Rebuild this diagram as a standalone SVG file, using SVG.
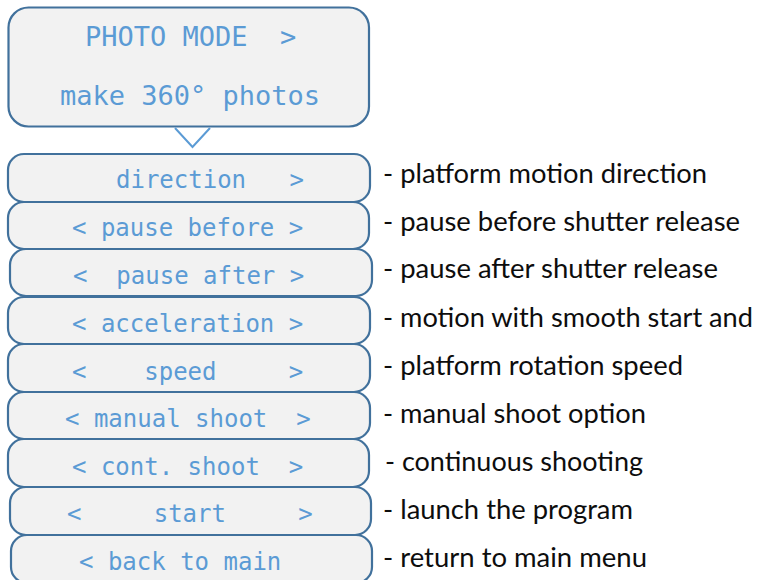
<svg xmlns="http://www.w3.org/2000/svg" width="757" height="580" viewBox="0 0 757 580">
<style>
.box{fill:#F2F2F2;stroke:#41719C;stroke-width:2.2}
.mono{font-family:"DejaVu Sans Mono","Liberation Mono",monospace;fill:#5B9BD5;white-space:pre}
.big{font-size:27px}
.row{font-size:24px}
.desc{font-family:Lato,"Liberation Sans",sans-serif;font-size:26px;fill:#0D0D0D}
</style>
<rect width="757" height="580" fill="#FFFFFF"/>
<g id="photo-mode">
<rect class="box" x="8.5" y="7.5" width="360.5" height="119" rx="20"/>
<text class="mono big" x="85" y="46" xml:space="preserve">PHOTO MODE  &gt;</text>
<text class="mono big" x="60" y="105" xml:space="preserve">make 360° photos</text>
</g>
<g id="connectors">
<polyline points="175,128 192.5,147 210,128" fill="none" stroke="#5B9BD5" stroke-width="2"/>
</g>
<g id="direction">
<rect class="box" x="8" y="154" width="362" height="48" rx="16"/>
<text class="mono row" x="116" y="188" xml:space="preserve">direction   &gt;</text>
</g>
<g id="pause-before">
<rect class="box" x="8" y="202" width="361" height="47" rx="16"/>
<text class="mono row" x="72" y="236" xml:space="preserve">&lt; pause before &gt;</text>
</g>
<g id="pause-after">
<rect class="box" x="10" y="249" width="362" height="47" rx="16"/>
<text class="mono row" x="73" y="284" xml:space="preserve">&lt;  pause after &gt;</text>
</g>
<g id="acceleration">
<rect class="box" x="8" y="297" width="362" height="47" rx="16"/>
<text class="mono row" x="72" y="332" xml:space="preserve">&lt; acceleration &gt;</text>
</g>
<g id="speed">
<rect class="box" x="8" y="344" width="362" height="48" rx="16"/>
<text class="mono row" x="72" y="380" xml:space="preserve">&lt;    speed     &gt;</text>
</g>
<g id="manual-shoot">
<rect class="box" x="8" y="392" width="362" height="47" rx="16"/>
<text class="mono row" x="65" y="427" xml:space="preserve">&lt; manual shoot  &gt;</text>
</g>
<g id="cont-shoot">
<rect class="box" x="8" y="439" width="361" height="48" rx="16"/>
<text class="mono row" x="72" y="475" xml:space="preserve">&lt; cont. shoot  &gt;</text>
</g>
<g id="start">
<rect class="box" x="10" y="487" width="361" height="48" rx="16"/>
<text class="mono row" x="67" y="522" xml:space="preserve">&lt;     start     &gt;</text>
</g>
<g id="back-to-main">
<rect class="box" x="11" y="535" width="361" height="48" rx="16"/>
<text class="mono row" x="79" y="570" xml:space="preserve">&lt; back to main</text>
</g>
<g id="descriptions">
<text class="desc" x="383" y="183" textLength="324" lengthAdjust="spacingAndGlyphs">- platform motion direction</text>
<text class="desc" x="383" y="231" textLength="357" lengthAdjust="spacingAndGlyphs">- pause before shutter release</text>
<text class="desc" x="383" y="278" textLength="335" lengthAdjust="spacingAndGlyphs">- pause after shutter release</text>
<text class="desc" x="383" y="327" textLength="370" lengthAdjust="spacingAndGlyphs">- motion with smooth start and</text>
<text class="desc" x="383" y="375" textLength="300" lengthAdjust="spacingAndGlyphs">- platform rotation speed</text>
<text class="desc" x="383" y="423" textLength="263" lengthAdjust="spacingAndGlyphs">- manual shoot option</text>
<text class="desc" x="385" y="471" textLength="258" lengthAdjust="spacingAndGlyphs">- continuous shooting</text>
<text class="desc" x="383" y="519" textLength="250" lengthAdjust="spacingAndGlyphs">- launch the program</text>
<text class="desc" x="383" y="567" textLength="264" lengthAdjust="spacingAndGlyphs">- return to main menu</text>
</g>
</svg>
